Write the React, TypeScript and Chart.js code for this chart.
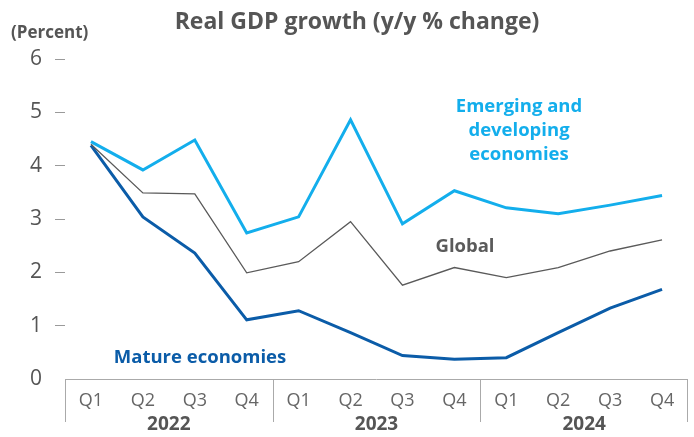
import React, { useEffect, useRef } from "react";
import { Chart, registerables } from "chart.js";

Chart.register(...registerables);

const years = ["2022", "2023", "2024"];
const quarters = ["Q1", "Q2", "Q3", "Q4"];
const categories = years.flatMap(() => quarters);

const emerging = [4.45, 3.92, 4.48, 2.74, 3.04, 4.86, 2.91, 3.53, 3.21, 3.1, 3.26, 3.44];
const globalGrowth = [4.4, 3.49, 3.47, 1.99, 2.2, 2.95, 1.76, 2.09, 1.9, 2.09, 2.4, 2.61];
const mature = [4.38, 3.04, 2.36, 1.11, 1.28, 0.87, 0.44, 0.37, 0.4, 0.87, 1.33, 1.68];

const yTicks = [0, 1, 2, 3, 4, 5, 6];

const FONT = "'Open Sans', 'Noto Sans', sans-serif";
const C_EM = "#13aeec";
const C_MAT = "#0b5ca8";
const C_GLOB = "#5a5a5a";
const C_TEXT = "#555555";

const decorPlugin = {
  id: "decor",
  afterDraw(chart: any) {
    const { ctx, chartArea } = chart;
    const x = chart.scales.x;
    const top = chartArea.bottom;
    const bottomLine = top + 43;
    ctx.save();
    // box
    ctx.strokeStyle = "#aaaaaa";
    ctx.lineWidth = 1;
    ctx.beginPath();
    ctx.moveTo(chartArea.left, top + 0.5);
    ctx.lineTo(chartArea.right, top + 0.5);
    const step = (chartArea.right - chartArea.left) / categories.length;
    for (let i = 0; i <= years.length; i++) {
      const px = Math.round(chartArea.left + i * quarters.length * step) + 0.5;
      const xx = i === years.length ? px - 1 : px;
      ctx.moveTo(xx, top);
      ctx.lineTo(xx, bottomLine);
    }
    ctx.stroke();
    // years
    ctx.fillStyle = C_TEXT;
    ctx.font = `bold 19px ${FONT}`;
    ctx.textAlign = "center";
    ctx.textBaseline = "middle";
    years.forEach((yr, i) => {
      const a = x.getPixelForValue(i * quarters.length);
      const b = x.getPixelForValue(i * quarters.length + quarters.length - 1);
      ctx.fillText(yr, (a + b) / 2, top + 46);
    });
    // title
    ctx.font = `bold 23px ${FONT}`;
    ctx.fillStyle = C_TEXT;
    ctx.fillText("Real GDP growth (y/y % change)", 357, 22);
    ctx.font = `bold 17px ${FONT}`;
    ctx.textAlign = "left";
    ctx.fillText("(Percent)", 11, 33);
    // series labels
    ctx.textAlign = "center";
    ctx.font = `bold 18.5px ${FONT}`;
    ctx.fillStyle = C_EM;
    ctx.fillText("Emerging and", 519, 107);
    ctx.fillText("developing", 519, 131);
    ctx.fillText("economies", 519, 155);
    ctx.fillStyle = C_GLOB;
    ctx.fillText("Global", 465, 247);
    ctx.fillStyle = C_MAT;
    ctx.fillText("Mature economies", 200, 358);
    ctx.restore();
  },
};

export default function App() {
  const ref = useRef<HTMLCanvasElement>(null);
  useEffect(() => {
    if (!ref.current) return;
    const chart = new Chart(ref.current, {
      type: "line",
      data: {
        labels: categories,
        datasets: [
          { label: "Emerging and developing economies", data: emerging, borderColor: C_EM, borderWidth: 3, pointRadius: 0, tension: 0 },
          { label: "Global", data: globalGrowth, borderColor: C_GLOB, borderWidth: 1.3, pointRadius: 0, tension: 0 },
          { label: "Mature economies", data: mature, borderColor: C_MAT, borderWidth: 3, pointRadius: 0, tension: 0 },
        ],
      },
      options: {
        animation: false,
        responsive: false,
        layout: { padding: { top: 59, right: 6, left: 0, bottom: 0 } },
        plugins: { legend: { display: false }, title: { display: false }, tooltip: { enabled: false } },
        scales: {
          x: {
            type: "category",
            offset: true,
            grid: { display: false, drawTicks: false },
            border: { display: false },
            ticks: { color: "#666666", font: { family: FONT, size: 18 }, padding: 11, maxRotation: 0, autoSkip: false },
            afterFit: (s: any) => { s.height = 58; },
          },
          y: {
            min: 0,
            max: 6,
            afterBuildTicks: (s: any) => { s.ticks = yTicks.map((v) => ({ value: v })); },
            grid: {
              drawOnChartArea: false,
              drawTicks: true,
              tickLength: 10,
              color: (c: any) => (c.tick && c.tick.value === 0 ? "rgba(0,0,0,0)" : "#9a9a9a"),
            },
            border: { display: false },
            ticks: { color: C_TEXT, font: { family: FONT, size: 21 }, padding: 13 },
            afterFit: (s: any) => { s.width = 65; },
          },
        },
      },
      plugins: [decorPlugin],
    });
    return () => chart.destroy();
  }, []);
  return (
    <div style={{ position: "absolute", left: 0, top: 0, width: 694, height: 437, background: "#fff" }}>
      <canvas ref={ref} width={694} height={437} style={{ width: 694, height: 437 }} />
    </div>
  );
}
